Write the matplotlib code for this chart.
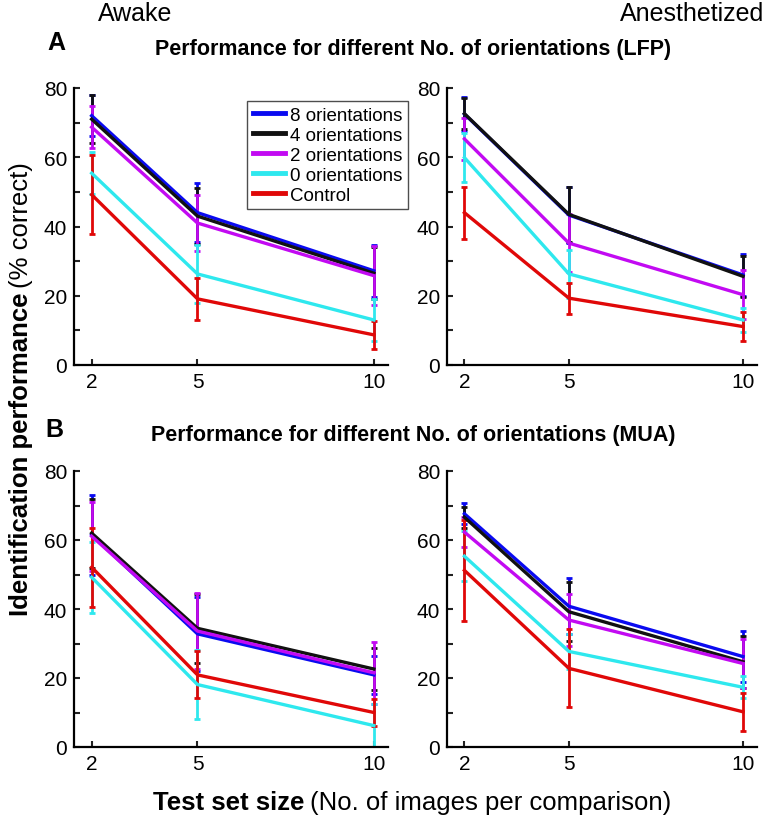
import matplotlib
matplotlib.use('Agg')
import matplotlib.pyplot as plt

plt.rcParams['font.family'] = ['Liberation Sans', 'DejaVu Sans']

# test set sizes on the x axis
x_sizes = [2, 5, 10]
series_names = ['8 orientations', '4 orientations', '2 orientations', '0 orientations', 'Control']
series_colors = ['#0a0af0', '#111111', '#c20af2', '#2ee8ee', '#e00808']

# LFP, awake
lfp_awake = [[72, 44, 27.2], [71, 43, 26.5], [68.7, 41, 25.8], [55.4, 26.3, 13], [49.2, 19.1, 8.7]]
lfp_awake_err = [[6, 8.5, 7.5], [7, 8, 7.5], [6, 8, 8.5], [6, 8.5, 6], [11.5, 6, 4]]
# LFP, anesthetized
lfp_anest = [[72.5, 43.3, 26], [72.6, 43.5, 25.6], [65.3, 35.2, 20.3], [59.9, 26.3, 13], [44, 19.3, 11.1]]
lfp_anest_err = [[5, 8, 6], [4.5, 8, 6], [6, 8.3, 7], [7, 7, 3.5], [7.5, 4.5, 4.2]]
# MUA, awake
mua_awake = [[61.5, 32.8, 20.9], [62, 34.4, 22.6], [61.1, 33.6, 21.5], [49.2, 18.1, 6.2], [52.1, 20.9, 10]]
mua_awake_err = [[11.5, 10.8, 5.5], [10, 10, 6], [10, 11, 9], [10.3, 10, 6.2], [11.5, 6.8, 4]]
# MUA, anesthetized
mua_anest = [[67.6, 40.8, 26.2], [66.6, 39.2, 24.7], [62.3, 36.8, 24.2], [55.3, 27.7, 17.3], [51.2, 22.8, 10.2]]
mua_anest_err = [[3, 8.1, 7.3], [3, 8.6, 7.6], [4.4, 7.6, 7], [7.3, 5, 3.2], [14.7, 11.3, 5.5]]

W, H = 771, 820
fig = plt.figure(figsize=(W / 100, H / 100), dpi=100)


def px_axes(x0, x1, ytop, ybot):
    return fig.add_axes([x0 / W, 1 - ybot / H, (x1 - x0) / W, (ybot - ytop) / H])


def draw_panel(ax, means, errs, legend=False):
    for m, e, c, name in zip(means, errs, series_colors, series_names):
        ax.errorbar(x_sizes, m, yerr=e, color=c, lw=2.4, elinewidth=2,
                    capsize=2, capthick=2, label=name)
    ax.set_xlim(1.5, 10.4)
    ax.set_ylim(0, 80)
    ax.set_xticks(x_sizes)
    ax.set_yticks(range(0, 81, 10))
    ax.set_yticklabels([str(v) if v % 20 == 0 else '' for v in range(0, 81, 10)])
    for s in ['top', 'right']:
        ax.spines[s].set_visible(False)
    for s in ['left', 'bottom']:
        ax.spines[s].set_linewidth(1.6)
    ax.tick_params(direction='in', length=4, width=1.5, labelsize=15, color='#222222')
    ax.tick_params(axis='y', pad=5)
    ax.tick_params(axis='x', pad=5)
    if legend:
        handles, labels = ax.get_legend_handles_labels()
        handles = [h[0] for h in handles]
        leg = ax.legend(handles, labels, loc='upper left', bbox_to_anchor=(0.551, 0.953),
                        fontsize=13.5, frameon=True, fancybox=False, handlelength=1.7,
                        handletextpad=0.3, labelspacing=0.15, borderpad=0.3,
                        borderaxespad=0)
        leg.get_frame().set_edgecolor('#222222')
        leg.get_frame().set_linewidth(1.0)
        for ln in leg.get_lines():
            ln.set_linewidth(3.5)


axA1 = px_axes(74, 388, 89, 366)
axA2 = px_axes(447, 757, 89, 366)
axB1 = px_axes(74, 388, 472, 748)
axB2 = px_axes(447, 757, 472, 748)

draw_panel(axA1, lfp_awake, lfp_awake_err, legend=True)
draw_panel(axA2, lfp_anest, lfp_anest_err)
draw_panel(axB1, mua_awake, mua_awake_err)
draw_panel(axB2, mua_anest, mua_anest_err)


def ftext(x, y, s, **kw):
    return fig.text(x / W, 1 - y / H, s, **kw)


ftext(135, 14, 'Awake', fontsize=18, ha='center', va='center')
ftext(692, 14, 'Anesthetized', fontsize=18, ha='center', va='center')
ftext(56, 43, 'A', fontsize=18, fontweight='bold', ha='center', va='center')
ftext(54, 430, 'B', fontsize=18, fontweight='bold', ha='center', va='center')
ftext(413, 50, 'Performance for different No. of orientations (LFP)', fontsize=15.5,
      fontweight='bold', ha='center', va='center')
ftext(413, 436, 'Performance for different No. of orientations (MUA)', fontsize=15.5,
      fontweight='bold', ha='center', va='center')

# axis labels with a bold part and a plain part
renderer = fig.canvas.get_renderer()


def two_part(cx, cy, bold, plain, size, vertical=False, gap=5):
    t1 = fig.text(0, 0, bold, fontsize=size, fontweight='bold')
    t2 = fig.text(0, 0, plain, fontsize=size)
    w1 = t1.get_window_extent(renderer).width
    w2 = t2.get_window_extent(renderer).width
    t1.remove()
    t2.remove()
    total = w1 + gap + w2
    if not vertical:
        x0 = cx - total / 2
        ftext(x0, cy, bold, fontsize=size, fontweight='bold', ha='left', va='baseline')
        ftext(x0 + w1 + gap, cy, plain, fontsize=size, ha='left', va='baseline')
    else:
        y0 = cy + total / 2
        ftext(cx, y0, bold, fontsize=size, fontweight='bold', ha='left', va='baseline',
              rotation=90, rotation_mode='anchor')
        ftext(cx, y0 - w1 - gap, plain, fontsize=size, ha='left', va='baseline',
              rotation=90, rotation_mode='anchor')


two_part(412, 810, 'Test set size', '(No. of images per comparison)', 18.5)
two_part(28, 389, 'Identification performance', '(% correct)', 18.5, vertical=True)

fig.savefig('out.png', dpi=100)
